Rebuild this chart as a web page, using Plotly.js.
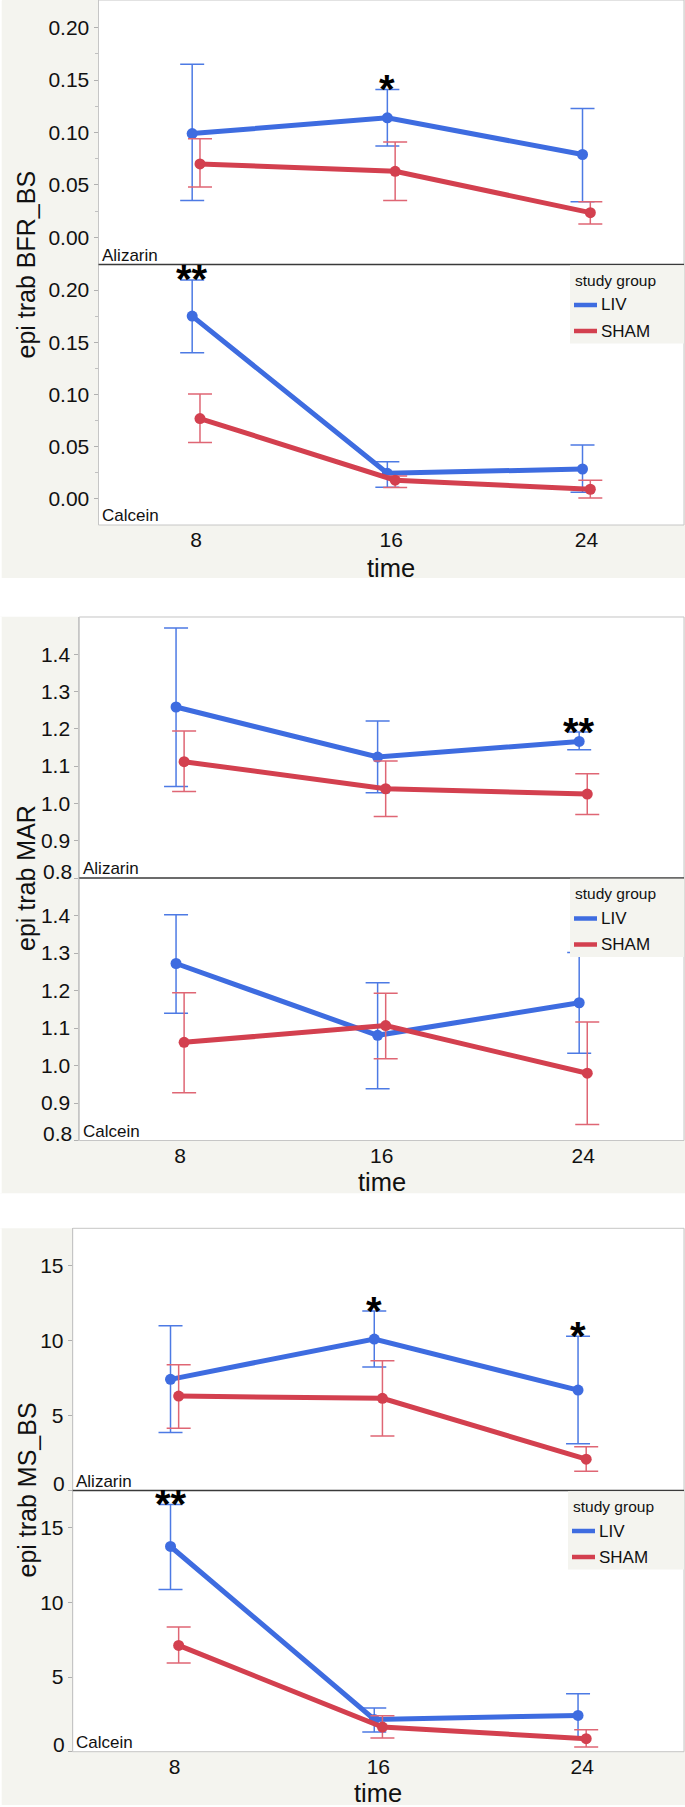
<!DOCTYPE html>
<html><head><meta charset="utf-8">
<script src="https://cdn.plot.ly/plotly-3.0.1.min.js"></script>
<style>html,body{margin:0;padding:0;background:#fff}</style>
</head><body><div id="chart" style="width:685px;height:1807px"></div>
<script>
// ---------- data ----------
const times = [8, 16, 24];
const groups = ['LIV', 'SHAM'];
const legendTitle = 'study group';
const xTitle = 'time';
const subLabels = ['Alizarin', 'Calcein'];

// epi trab BFR_BS
const bfrAlizLIV    = [0.099, 0.114, 0.079];
const bfrAlizLIVHi  = [0.165, 0.141, 0.123];
const bfrAlizLIVLo  = [0.035, 0.087, 0.034];
const bfrAlizSHAM   = [0.070, 0.063, 0.0235];
const bfrAlizSHAMHi = [0.094, 0.091, 0.034];
const bfrAlizSHAMLo = [0.048, 0.035, 0.0127];
const bfrCalcLIV    = [0.175, 0.0246, 0.0287];
const bfrCalcLIVHi  = [0.2096, 0.0357, 0.0517];
const bfrCalcLIVLo  = [0.140, 0.0112, 0.0064];
const bfrCalcSHAM   = [0.077, 0.018, 0.0093];
const bfrCalcSHAMHi = [0.1005, 0.022, 0.0179];
const bfrCalcSHAMLo = [0.054, 0.011, 0.001];
const bfrAlizSig = ['', '*', ''];
const bfrCalcSig = ['**', '', ''];
const bfrTicks = [0, 0.05, 0.10, 0.15, 0.20];

// epi trab MAR
const marAlizLIV    = [1.2586, 1.1244, 1.1664];
const marAlizLIVHi  = [1.4707, 1.221, 1.1915];
const marAlizLIVLo  = [1.0456, 1.0286, 1.144];
const marAlizSHAM   = [1.1119, 1.0394, 1.025];
const marAlizSHAMHi = [1.194, 1.1136, 1.0796];
const marAlizSHAMLo = [1.032, 0.965, 0.9705];
const marCalcLIV    = [1.272, 1.0805, 1.1673];
const marCalcLIVHi  = [1.4018, 1.221, 1.3016];
const marCalcLIVLo  = [1.1396, 0.938, 1.033];
const marCalcSHAM   = [1.0617, 1.1065, 0.9794];
const marCalcSHAMHi = [1.194, 1.1924, 1.1163];
const marCalcSHAMLo = [0.9275, 1.018, 0.8425];
const marAlizSig = ['', '', '**'];
const marCalcSig = ['', '', ''];
const marTicks = [0.8, 0.9, 1.0, 1.1, 1.2, 1.3, 1.4];

// epi trab MS_BS
const msAlizLIV    = [7.42, 10.11, 6.70];
const msAlizLIVHi  = [11.0, 11.98, 10.29];
const msAlizLIVLo  = [3.875, 8.24, 3.12];
const msAlizSHAM   = [6.30, 6.15, 2.09];
const msAlizSHAMHi = [8.40, 8.66, 2.92];
const msAlizSHAMLo = [4.16, 3.63, 1.29];
const msCalcLIV    = [13.75, 2.165, 2.43];
const msCalcLIVHi  = [16.56, 2.92, 3.88];
const msCalcLIVLo  = [10.87, 1.317, 0.98];
const msCalcSHAM   = [7.12, 1.65, 0.87];
const msCalcSHAMHi = [8.35, 2.41, 1.47];
const msCalcSHAMLo = [5.94, 0.915, 0.31];
const msAlizSig = ['', '*', '*'];
const msCalcSig = ['**', '', ''];
const msTicks = [0, 5, 10, 15];

// ---------- styling / layout ----------
const W = 685, H = 1807;
const py = y => 1 - y / H;
const px = x => x / W;
const RIGHT = 684;
const BLUE = '#3e6ce0', RED = '#d3404f';
const BLUE_E = '#4d7ae4', RED_E = '#df6674';
const GRAY = '#f4f4ef';
const TXT = '#111111';
const FONT = 'Liberation Sans, Arial, Helvetica, sans-serif';
const dodge = [-0.16, 0.16];
const colors = [BLUE, RED], ecolors = [BLUE_E, RED_E];

const panels = [
  { title: 'epi trab BFR_BS', left: 98.5, top: 0, mid: 264.5, bottom: 525, timeY: 568,
    ranges: [[-0.02595, 0.2264], [-0.0249, 0.2244]], ticks: bfrTicks, fmt: v => v.toFixed(2), minor: 0.025,
    data: [[[bfrAlizLIV, bfrAlizLIVHi, bfrAlizLIVLo], [bfrAlizSHAM, bfrAlizSHAMHi, bfrAlizSHAMLo]],
           [[bfrCalcLIV, bfrCalcLIVHi, bfrCalcLIVLo], [bfrCalcSHAM, bfrCalcSHAMHi, bfrCalcSHAMLo]]],
    sig: [bfrAlizSig, bfrCalcSig], legX: 570 },
  { title: 'epi trab MAR', left: 79.3, top: 617, mid: 878, bottom: 1140.5, timeY: 1182,
    ranges: [[0.8, 1.5], [0.8, 1.5]], ticks: marTicks, fmt: v => v.toFixed(1), minor: null,
    data: [[[marAlizLIV, marAlizLIVHi, marAlizLIVLo], [marAlizSHAM, marAlizSHAMHi, marAlizSHAMLo]],
           [[marCalcLIV, marCalcLIVHi, marCalcLIVLo], [marCalcSHAM, marCalcSHAMHi, marCalcSHAMLo]]],
    sig: [marAlizSig, marCalcSig], legX: 570 },
  { title: 'epi trab MS_BS', left: 72.7, top: 1228.3, mid: 1490.5, bottom: 1751.7, timeY: 1792.5,
    ranges: [[0, 17.5], [0, 17.5]], ticks: msTicks, fmt: v => String(v), minor: null,
    data: [[[msAlizLIV, msAlizLIVHi, msAlizLIVLo], [msAlizSHAM, msAlizSHAMHi, msAlizSHAMLo]],
           [[msCalcLIV, msCalcLIVHi, msCalcLIVLo], [msCalcSHAM, msCalcSHAMHi, msCalcSHAMLo]]],
    sig: [msAlizSig, msCalcSig], legX: 568 }
];

const traces = [];
const layout = {
  width: W, height: H, margin: { l: 0, r: 0, t: 0, b: 0 },
  paper_bgcolor: GRAY, plot_bgcolor: '#ffffff', showlegend: false,
  font: { family: FONT, color: TXT },
  shapes: [], annotations: []
};

// white gaps between panels
[[-1, 0.5, 0, 2], [578, 616.7, 0, W], [1193.3, 1228.3, 0, W], [1805, H + 1, 0, W]].forEach(([a, b, x0, x1]) => {
  layout.shapes.push({ type: 'rect', xref: 'paper', yref: 'paper', x0: px(x0), x1: px(x1), y0: py(b), y1: py(a),
    fillcolor: '#ffffff', line: { width: 0 }, layer: 'below' });
});
[[0, 578], [616.7, 1193.3], [1228.3, 1805]].forEach(([a, b]) => {
  layout.shapes.push({ type: 'rect', xref: 'paper', yref: 'paper', x0: 0, x1: px(1.7), y0: py(b), y1: py(a),
    fillcolor: '#ffffff', line: { width: 0 }, layer: 'below' });
});

panels.forEach((P, p) => {
  for (let s = 0; s < 2; s++) {
    const k = 2 * p + s + 1;
    const xa = 'xaxis' + (k === 1 ? '' : k), ya = 'yaxis' + (k === 1 ? '' : k);
    const xr = 'x' + (k === 1 ? '' : k), yr = 'y' + (k === 1 ? '' : k);
    const yTop = s === 0 ? P.top : P.mid, yBot = s === 0 ? P.mid : P.bottom;
    const rng = P.ranges[s];
    layout[xa] = {
      domain: [px(P.left), px(RIGHT)], range: [4, 28], anchor: yr,
      showgrid: false, zeroline: false, showline: false, ticks: '',
      tickmode: 'array', tickvals: times, ticktext: times.map(String),
      showticklabels: s === 1, tickfont: { size: 21, color: TXT, family: FONT }, fixedrange: true
    };
    const tv = P.ticks.filter(v => v >= rng[0] - 1e-9 && v <= rng[1]);
    const ttxt = tv.map(v => (Math.abs(v - rng[0]) < 1e-9 ? '' : P.fmt(v)));
    layout[ya] = {
      domain: [py(yBot), py(yTop)], range: rng, anchor: xr,
      showgrid: false, zeroline: false, showline: true, linecolor: '#c6c6c6', linewidth: 1,
      ticks: 'outside', ticklen: 4, tickcolor: '#b0b0b0', tickwidth: 1,
      tickmode: 'array', tickvals: tv, ticktext: ttxt,
      tickfont: { size: 21, color: TXT, family: FONT }, fixedrange: true
    };
    if (P.minor) {
      const mv = [];
      for (let i = 0; i < P.ticks.length - 1; i++) mv.push((P.ticks[i] + P.ticks[i + 1]) / 2);
      layout[ya].minor = { tickmode: 'array', tickvals: mv, ticks: 'outside', ticklen: 3, tickcolor: '#c0c0c0' };
    }
    // boundary tick label drawn slightly raised
    tv.forEach(v => {
      if (Math.abs(v - rng[0]) < 1e-9) {
        layout.annotations.push({ xref: 'paper', yref: yr, x: px(P.left - 5.6), y: v, xanchor: 'right', yanchor: 'middle',
          yshift: 7, text: P.fmt(v), showarrow: false, font: { size: 21, color: TXT, family: FONT } });
      }
    });

    // series
    for (let g = 0; g < 2; g++) {
      const [m, hi, lo] = P.data[s][g];
      traces.push({
        type: 'scatter', mode: 'lines+markers', name: groups[g], xaxis: xr, yaxis: yr,
        x: times.map(t => t + dodge[g]), y: m,
        line: { color: colors[g], width: 5 }, marker: { color: colors[g], size: 11 },
        error_y: { type: 'data', symmetric: false, array: hi.map((h, i) => h - m[i]), arrayminus: lo.map((l, i) => m[i] - l),
          color: ecolors[g], thickness: 1.5, width: 12 },
        hoverinfo: 'skip', cliponaxis: false
      });
    }
    // significance marks above LIV upper error
    const liv = P.data[s][0];
    P.sig[s].forEach((txt, i) => {
      if (!txt) return;
      layout.annotations.push({ xref: xr, yref: yr, x: times[i] + dodge[0], y: liv[1][i], xanchor: 'center', yanchor: 'middle',
        yshift: 0.5, text: '<b>' + txt + '</b>', showarrow: false, font: { size: 40, color: '#000', family: FONT } });
    });
    // sub-panel label
    layout.annotations.push({ xref: 'paper', yref: 'paper', x: px(P.left + 1.5), y: py(yBot - 9.5), xanchor: 'left', yanchor: 'middle',
      text: subLabels[s], showarrow: false, font: { size: 17, color: TXT, family: FONT } });
  }
  // x title
  layout.annotations.push({ xref: 'x' + (2 * p + 2), yref: 'paper', x: 16, y: py(P.timeY), xanchor: 'center', yanchor: 'middle',
    text: xTitle, showarrow: false, font: { size: 25.5, color: TXT, family: FONT } });
  // y title
  layout.annotations.push({ xref: 'paper', yref: 'paper', x: px(26), y: py(P.mid), xanchor: 'center', yanchor: 'middle',
    textangle: -90, text: P.title, showarrow: false, font: { size: 25, color: TXT, family: FONT } });
  // border of plot area
  layout.shapes.push({ type: 'rect', xref: 'paper', yref: 'paper', x0: px(P.left), x1: px(RIGHT), y0: py(P.bottom), y1: py(P.top),
    line: { color: '#c6c6c6', width: 1 }, layer: 'above' });
  // separator
  layout.shapes.push({ type: 'line', xref: 'paper', yref: 'paper', x0: px(P.left), x1: px(RIGHT), y0: py(P.mid), y1: py(P.mid),
    line: { color: '#3a3a3a', width: 1.5 }, layer: 'above' });
  // legend box (in the lower sub-panel)
  const L = P.mid;
  layout.shapes.push({ type: 'rect', xref: 'paper', yref: 'paper', x0: px(P.legX), x1: px(RIGHT), y0: py(L + 79), y1: py(L + 0.8),
    fillcolor: GRAY, line: { width: 0 }, layer: 'above' });
  layout.annotations.push({ xref: 'paper', yref: 'paper', x: px(P.legX + 3), y: py(L + 16), xanchor: 'left', yanchor: 'middle',
    text: legendTitle, showarrow: false, font: { size: 15.5, color: TXT, family: FONT } });
  groups.forEach((gname, g) => {
    const yy = L + 40.5 + g * 26;
    layout.shapes.push({ type: 'line', xref: 'paper', yref: 'paper', x0: px(P.legX + 4), x1: px(P.legX + 27), y0: py(yy), y1: py(yy),
      line: { color: colors[g], width: 4.5 }, layer: 'above' });
    layout.annotations.push({ xref: 'paper', yref: 'paper', x: px(P.legX + 29), y: py(yy), xanchor: 'left', yanchor: 'middle',
      text: gname, showarrow: false, font: { size: 17, color: TXT, family: FONT } });
  });
});

Plotly.newPlot('chart', traces, layout, { displayModeBar: false, staticPlot: true });
</script>
</body></html>
